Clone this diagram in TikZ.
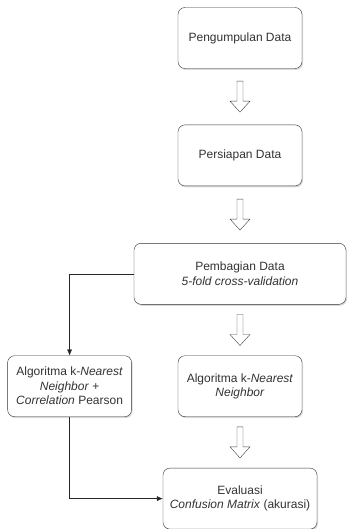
\documentclass[tikz,border=0pt]{standalone}
\usepackage{fontspec}
\setmainfont{Liberation Sans}
\usetikzlibrary{positioning}
\usetikzlibrary{shadows}
\usetikzlibrary{arrows.meta}

\begin{document}
\begin{tikzpicture}[x=1pt, y=1pt, font=\fontsize{12}{14.5}\selectfont,
  box/.style={draw=black!80, rounded corners=7pt, align=center, text=black!80, fill=white,
    minimum width=124pt, minimum height=61pt,
    drop shadow={shadow xshift=1pt, shadow yshift=-1.5pt, opacity=0.3}},
  flow/.pic={\draw[black!75, fill=white, line join=miter]
    (-3,15.5) -- (-3,-4.5) -- (-10,-4.5) -- (0,-15.5) -- (10,-4.5) -- (3,-4.5) -- (3,15.5) -- cycle;}]
  \useasboundingbox (0,0) rectangle (346,-529);
  \node[box] (kumpul) at (240,-38) {Pengumpulan Data};
  \node[box, below=56pt of kumpul] (siap) {Persiapan Data};
  \node[box, below=57pt of siap, minimum width=212pt] (bagi) {Pembagian Data\\ \textit{5-fold cross-validation}};
  \node[box, below=51pt of bagi] (knn) {Algoritma k-\textit{Nearest}\\ \textit{Neighbor}};
  \node[box, left=46pt of knn] (knnpc) {Algoritma k-\textit{Nearest}\\ \textit{Neighbor} +\\ \textit{Correlation} Pearson};
  \node[box, below=51pt of knn, minimum width=154pt] (eval) {Evaluasi\\ \textit{Confusion Matrix} (akurasi)};
  \path (kumpul.south) -- coordinate[midway] (f1) (siap.north);
  \path (siap.south) -- coordinate[midway] (f2) (bagi.north);
  \path (bagi.south) -- coordinate[midway] (f3) (knn.north);
  \path (knn.south) -- coordinate[midway] (f4) (eval.north);
  \foreach \f in {f1,f2,f3,f4}
    \pic at (\f) {flow};
  \draw[-{Latex[length=6pt, width=5pt]}, black!85] (bagi.west) -| (knnpc.north);
  \draw[-{Latex[length=6pt, width=5pt]}, black!85] (knnpc.south) |- (eval.west);
\end{tikzpicture}
\end{document}
